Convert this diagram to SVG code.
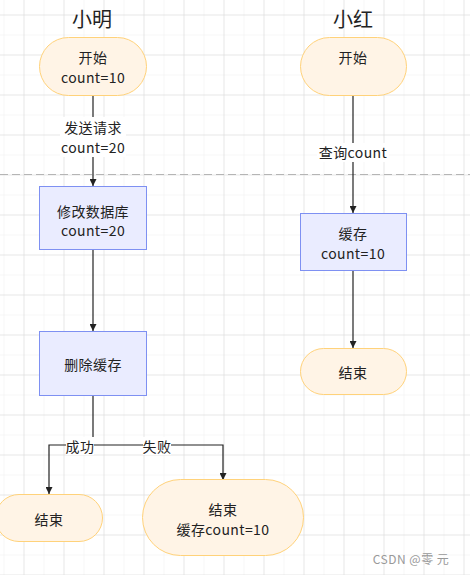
<svg xmlns="http://www.w3.org/2000/svg" width="470" height="575" viewBox="0 0 470 575">
<defs>
<pattern id="gridMinor" x="3.5" y="14.5" width="20" height="20" patternUnits="userSpaceOnUse">
<path d="M0 0 H20 M0 0 V20" fill="none" stroke="#eeeeee" stroke-width="1"/>
</pattern>
<pattern id="gridMajor" x="23.5" y="14.5" width="40" height="40" patternUnits="userSpaceOnUse">
<path d="M0 0 H40 M0 0 V40" fill="none" stroke="#dadada" stroke-width="1"/>
</pattern>
<marker id="arrow" viewBox="0 0 10 10" refX="10" refY="5" markerWidth="7" markerHeight="7" orient="auto" markerUnits="userSpaceOnUse">
<path d="M0 0 L10 5 L0 10 Z" fill="#222"/>
</marker>
</defs>
<style>
text{font-family:"Noto Sans CJK SC","Noto Sans",sans-serif;fill:#222;text-anchor:middle;dominant-baseline:central}
.t{font-size:14px;letter-spacing:0.4px}
.title{font-size:20px}
.term{fill:#fff4e6;stroke:#ffd27a;stroke-width:1}
.proc{fill:#eaecff;stroke:#7e90f2;stroke-width:1}
.edge{fill:none;stroke:#222;stroke-width:1.2}
.lbg{fill:#ffffff}
</style>
<rect width="470" height="575" fill="#ffffff"/>
<rect width="470" height="575" fill="url(#gridMinor)"/>
<rect width="470" height="575" fill="url(#gridMajor)"/>
<line x1="0" y1="174.5" x2="470" y2="174.5" stroke="#b5b5b5" stroke-width="1" stroke-dasharray="8,4"/>
<text class="title" x="92" y="18">小明</text>
<text class="title" x="353" y="18">小红</text>
<g id="connectors">
<path class="edge" d="M93 96 V186" marker-end="url(#arrow)"/>
<path class="edge" d="M93 249 V331" marker-end="url(#arrow)"/>
<path class="edge" d="M93 395 V445 H49 V494" marker-end="url(#arrow)"/>
<path class="edge" d="M93 445 H223 V480" marker-end="url(#arrow)"/>
<path class="edge" d="M353 96 V213" marker-end="url(#arrow)"/>
<path class="edge" d="M353 270 V348" marker-end="url(#arrow)"/>
<rect class="lbg" x="60" y="117" width="66" height="40"/>
<text class="t" x="93" y="127">发送请求</text>
<text class="t" x="93" y="147">count=20</text>
<rect class="lbg" x="317" y="143" width="72" height="19"/>
<text class="t" x="353" y="152">查询count</text>
<rect class="lbg" x="66" y="437" width="28" height="18"/>
<text class="t" x="80" y="446">成功</text>
<rect class="lbg" x="143" y="437" width="28" height="18"/>
<text class="t" x="157" y="446">失败</text>
</g>
<g id="xm_start">
<rect class="term" x="39.5" y="37.5" width="107" height="58" rx="29"/>
<text class="t" x="93" y="57">开始</text>
<text class="t" x="93" y="77">count=10</text>
</g>
<g id="xm_db">
<rect class="proc" x="39.5" y="186.5" width="107" height="63"/>
<text class="t" x="93" y="211">修改数据库</text>
<text class="t" x="93" y="230">count=20</text>
</g>
<g id="xm_delcache">
<rect class="proc" x="39.5" y="331.5" width="107" height="64"/>
<text class="t" x="93" y="364">删除缓存</text>
</g>
<g id="xm_end_ok">
<rect class="term" x="-4.5" y="494.5" width="107" height="47" rx="23.5"/>
<text class="t" x="49" y="519">结束</text>
</g>
<g id="xm_end_fail">
<rect class="term" x="142.5" y="479.5" width="161" height="76" rx="38"/>
<text class="t" x="223" y="509">结束</text>
<text class="t" x="223" y="529">缓存count=10</text>
</g>
<g id="xh_start">
<rect class="term" x="300.5" y="37.5" width="106" height="58" rx="29"/>
<text class="t" x="353" y="57">开始</text>
</g>
<g id="xh_cache">
<rect class="proc" x="300.5" y="213.5" width="106" height="57"/>
<text class="t" x="353" y="233">缓存</text>
<text class="t" x="353" y="253">count=10</text>
</g>
<g id="xh_end">
<rect class="term" x="300.5" y="348.5" width="106" height="46" rx="23"/>
<text class="t" x="353" y="372">结束</text>
</g>
<text x="411" y="558" style="font-size:12px;fill:#999;letter-spacing:0.5px">CSDN @零 元</text>
</svg>
